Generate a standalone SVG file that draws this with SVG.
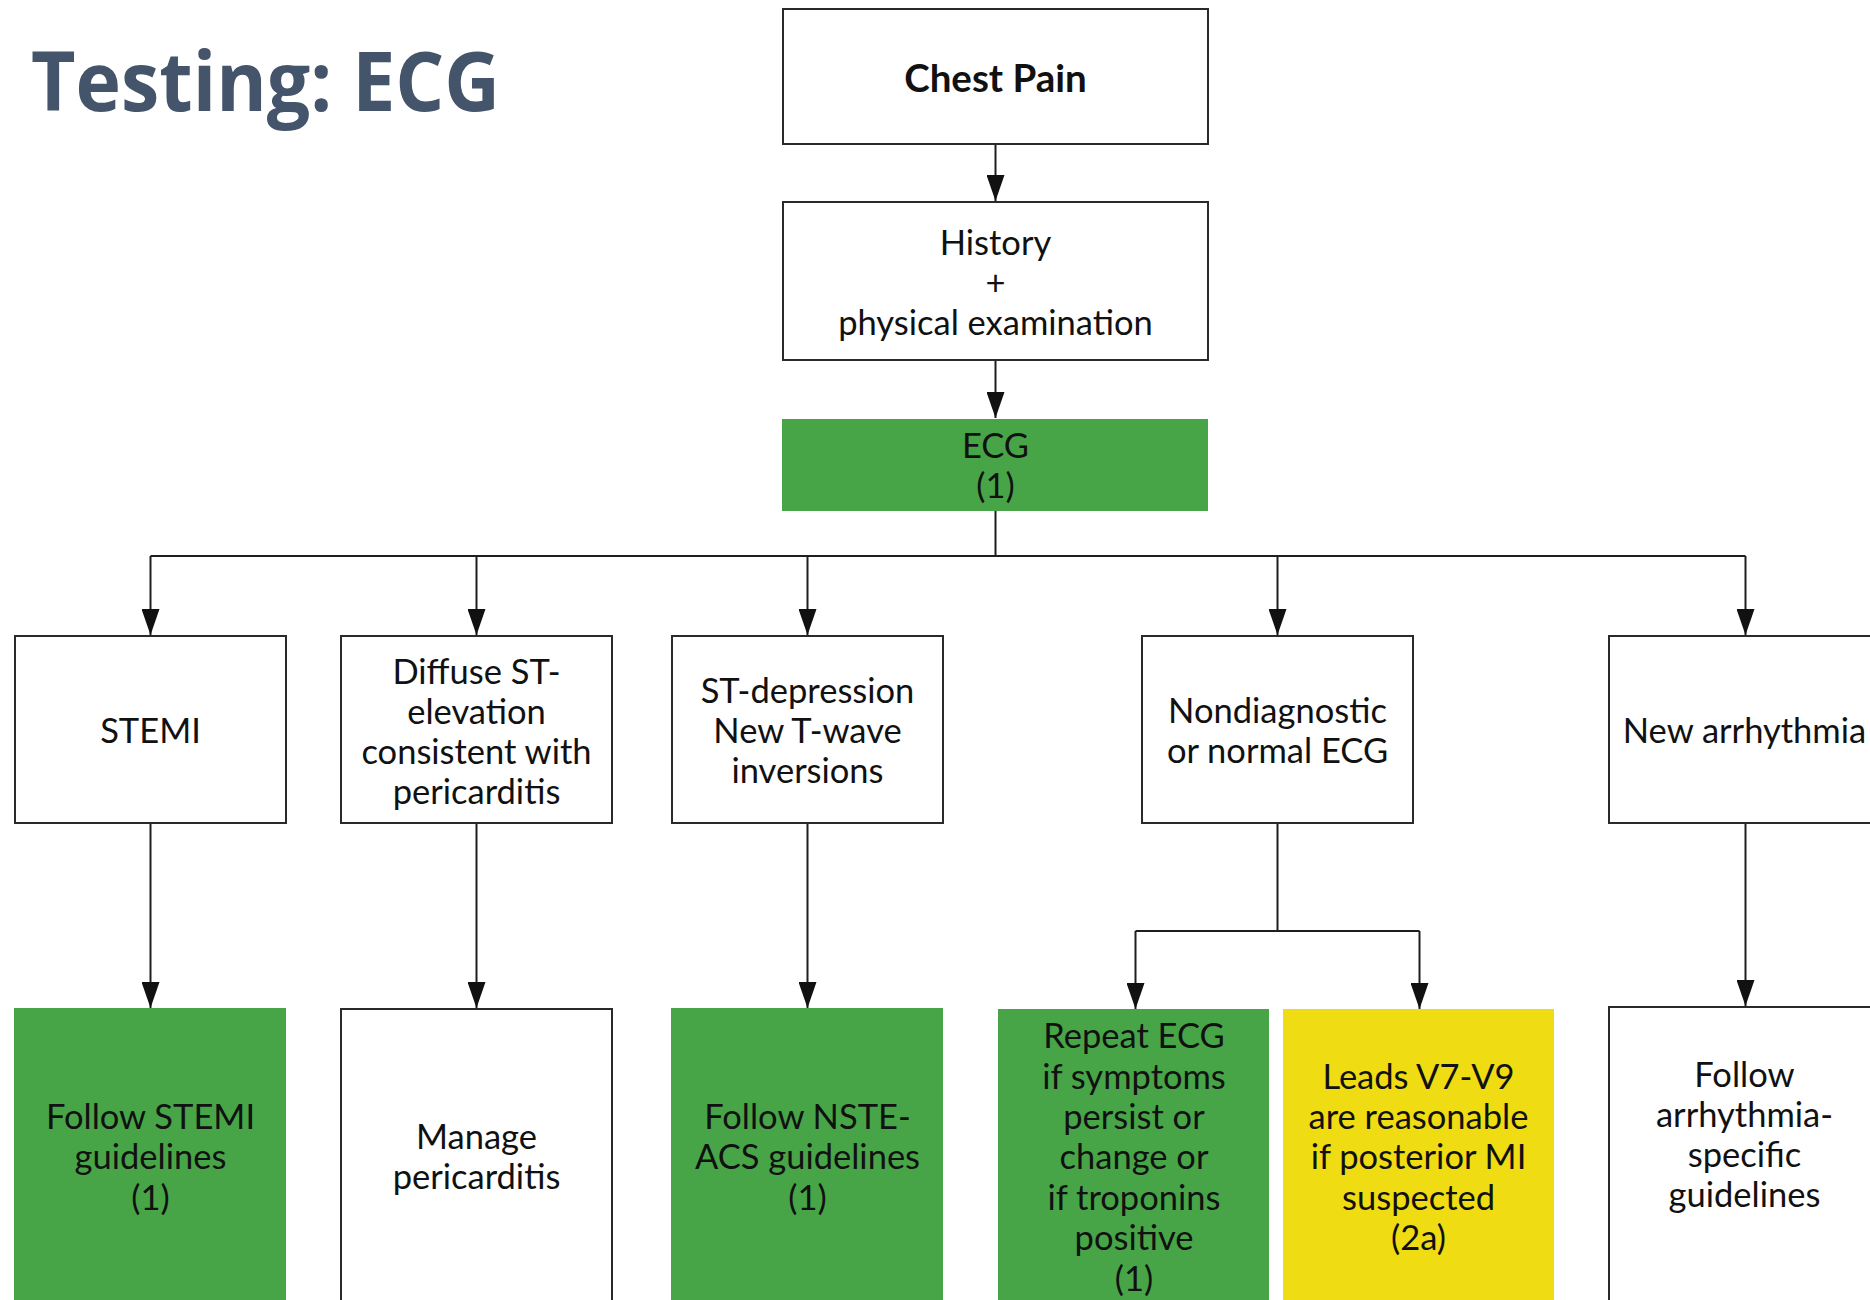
<svg xmlns="http://www.w3.org/2000/svg" width="1870" height="1300" viewBox="0 0 1870 1300">
  <style>
    .box { fill: #ffffff; stroke: #2a2a2a; stroke-width: 2; }
    .green { fill: #47a548; }
    .yellow { fill: #efdc12; }
    .conn { fill: none; stroke: #1e1e1e; stroke-width: 2; }
    .t { font-family: Lato, "Open Sans", "Liberation Sans", sans-serif; font-size: 34.5px; fill: #111111; text-anchor: middle; }
    .tb { font-family: Lato, "Open Sans", "Liberation Sans", sans-serif; font-size: 38.5px; font-weight: 700; fill: #111111; text-anchor: middle; }
    .title { font-family: "Open Sans", "Liberation Sans", sans-serif; font-size: 82px; font-weight: 700; fill: #44546a; font-variant-ligatures: none; font-feature-settings: "liga" 0, "dlig" 0; }
  </style>
  <defs>
    <marker id="arrow" markerUnits="userSpaceOnUse" markerWidth="26" markerHeight="18" viewBox="0 0 26 18" refX="26" refY="9" orient="auto">
      <path d="M0,0 L26,9 L0,18 Z" fill="#111111"/>
    </marker>
  </defs>

  <rect width="1870" height="1300" fill="#ffffff"/>

  <text class="title" x="31" y="111" textLength="469" lengthAdjust="spacingAndGlyphs">Testing: ECG</text>

  <!-- connectors -->
  <g id="connectors">
    <path class="conn" d="M995.5,144 V201" marker-end="url(#arrow)"/>
    <path class="conn" d="M995.5,360 V418" marker-end="url(#arrow)"/>
    <path class="conn" d="M995.5,511 V556 M150.5,556 H1745.5"/>
    <path class="conn" d="M150.5,556 V635" marker-end="url(#arrow)"/>
    <path class="conn" d="M476.5,556 V635" marker-end="url(#arrow)"/>
    <path class="conn" d="M807.5,556 V635" marker-end="url(#arrow)"/>
    <path class="conn" d="M1277.5,556 V635" marker-end="url(#arrow)"/>
    <path class="conn" d="M1745.5,556 V635" marker-end="url(#arrow)"/>
    <path class="conn" d="M150.5,823 V1008" marker-end="url(#arrow)"/>
    <path class="conn" d="M476.5,823 V1008" marker-end="url(#arrow)"/>
    <path class="conn" d="M807.5,823 V1008" marker-end="url(#arrow)"/>
    <path class="conn" d="M1745.5,823 V1006" marker-end="url(#arrow)"/>
    <path class="conn" d="M1277.5,823 V931 M1135.5,931 H1419.5"/>
    <path class="conn" d="M1135.5,931 V1009" marker-end="url(#arrow)"/>
    <path class="conn" d="M1419.5,931 V1009" marker-end="url(#arrow)"/>
  </g>

  <g id="chest-pain">
    <rect class="box" x="783" y="9" width="425" height="135"/>
    <text class="tb" x="995.5" y="92">Chest Pain</text>
  </g>

  <g id="history">
    <rect class="box" x="783" y="202" width="425" height="158"/>
    <text class="t" x="995.5" y="255">History</text>
    <text class="t" x="995.5" y="295">+</text>
    <text class="t" x="995.5" y="335">physical examination</text>
  </g>

  <g id="ecg">
    <rect class="green" x="782" y="419" width="426" height="92"/>
    <text class="t" x="995.5" y="458">ECG</text>
    <text class="t" x="995.5" y="498">(1)</text>
  </g>

  <g id="stemi">
    <rect class="box" x="15" y="636" width="271" height="187"/>
    <text class="t" x="150.5" y="743">STEMI</text>
  </g>

  <g id="diffuse-st">
    <rect class="box" x="341" y="636" width="271" height="187"/>
    <text class="t" x="476.5" y="684">Diffuse ST-</text>
    <text class="t" x="476.5" y="724">elevation</text>
    <text class="t" x="476.5" y="764">consistent with</text>
    <text class="t" x="476.5" y="804">pericarditis</text>
  </g>

  <g id="st-depression">
    <rect class="box" x="672" y="636" width="271" height="187"/>
    <text class="t" x="807.5" y="703">ST-depression</text>
    <text class="t" x="807.5" y="743">New T-wave</text>
    <text class="t" x="807.5" y="783">inversions</text>
  </g>

  <g id="nondiagnostic">
    <rect class="box" x="1142" y="636" width="271" height="187"/>
    <text class="t" x="1277.5" y="723">Nondiagnostic</text>
    <text class="t" x="1277.5" y="763">or normal ECG</text>
  </g>

  <g id="new-arrhythmia">
    <rect class="box" x="1609" y="636" width="280" height="187"/>
    <text class="t" x="1744.5" y="743">New arrhythmia</text>
  </g>

  <g id="follow-stemi">
    <rect class="green" x="14" y="1008" width="272" height="300"/>
    <text class="t" x="150.5" y="1129">Follow STEMI</text>
    <text class="t" x="150.5" y="1169">guidelines</text>
    <text class="t" x="150.5" y="1210">(1)</text>
  </g>

  <g id="manage-pericarditis">
    <rect class="box" x="341" y="1009" width="271" height="300"/>
    <text class="t" x="476.5" y="1149">Manage</text>
    <text class="t" x="476.5" y="1189">pericarditis</text>
  </g>

  <g id="follow-nste-acs">
    <rect class="green" x="671" y="1008" width="272" height="300"/>
    <text class="t" x="807.5" y="1129">Follow NSTE-</text>
    <text class="t" x="807.5" y="1169">ACS guidelines</text>
    <text class="t" x="807.5" y="1210">(1)</text>
  </g>

  <g id="repeat-ecg">
    <rect class="green" x="998" y="1009" width="271" height="300"/>
    <text class="t" x="1134" y="1048">Repeat ECG</text>
    <text class="t" x="1134" y="1089">if symptoms</text>
    <text class="t" x="1134" y="1129">persist or</text>
    <text class="t" x="1134" y="1169">change or</text>
    <text class="t" x="1134" y="1210">if troponins</text>
    <text class="t" x="1134" y="1250">positive</text>
    <text class="t" x="1134" y="1291">(1)</text>
  </g>

  <g id="leads-v7-v9">
    <rect class="yellow" x="1283" y="1009" width="271" height="300"/>
    <text class="t" x="1418.5" y="1089">Leads V7-V9</text>
    <text class="t" x="1418.5" y="1129">are reasonable</text>
    <text class="t" x="1418.5" y="1169">if posterior MI</text>
    <text class="t" x="1418.5" y="1210">suspected</text>
    <text class="t" x="1418.5" y="1250">(2a)</text>
  </g>

  <g id="follow-arrhythmia">
    <rect class="box" x="1609" y="1007" width="280" height="300"/>
    <text class="t" x="1744.5" y="1087">Follow</text>
    <text class="t" x="1744.5" y="1127">arrhythmia-</text>
    <text class="t" x="1744.5" y="1167">specific</text>
    <text class="t" x="1744.5" y="1207">guidelines</text>
  </g>
</svg>
